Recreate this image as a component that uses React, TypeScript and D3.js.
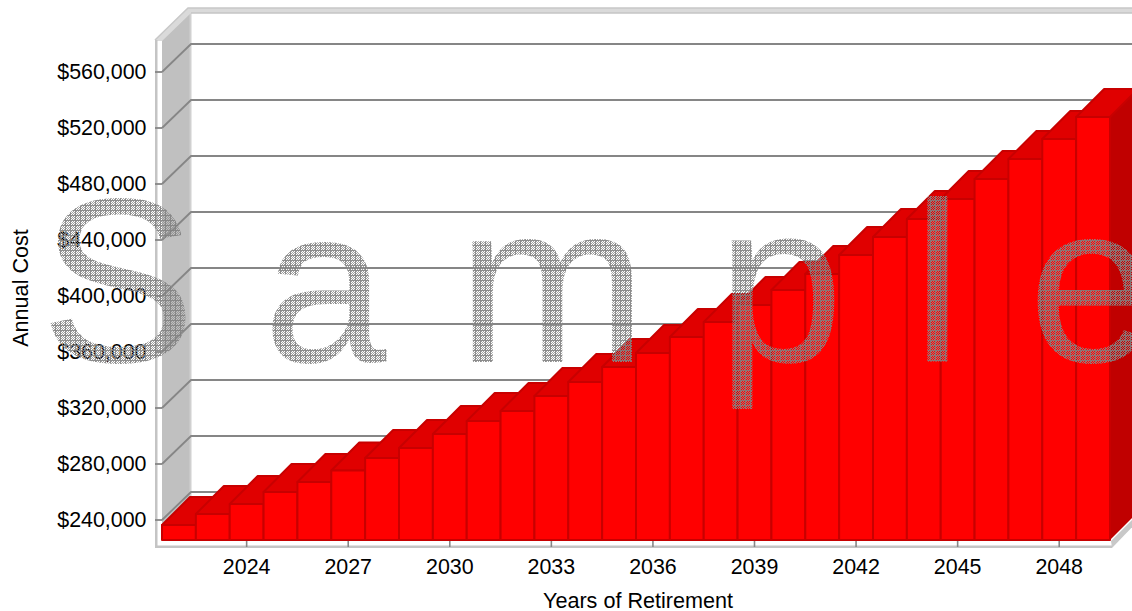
import React from "react";
import * as d3 from "d3";

const years = d3.range(2022, 2050);
const annualCost = [
  236400, 244300, 251400, 260000, 267100, 275400, 284300, 291400, 301400, 310700,
  317900, 328600, 338600, 349300, 359300, 370700, 381400, 393600, 404300, 415700,
  429300, 442100, 455000, 469300, 483600, 497900, 512100, 527900,
];
const valueTicks = [240000, 280000, 320000, 360000, 400000, 440000, 480000, 520000, 560000];
const yearTicks = [2024, 2027, 2030, 2033, 2036, 2039, 2042, 2045, 2048];
const watermarkLetters = ["S", "a", "m", "p", "l", "e"];
const watermarkX = [40, 263, 457, 717, 912, 1028];
const watermarkSize = [234, 222, 228, 228, 228, 228];

const W = 1132, H = 611;
const DEPTH = 28;
const LEFT = 162, RIGHT = 1110, FLOOR = 540, TOP = 40;
const FONT = "'Liberation Sans', Arial, sans-serif";

const x = d3.scaleBand<number>().domain(years).range([LEFT, RIGHT]);
const y = d3.scaleLinear().domain([240000, 560000]).range([520, 72]);
const money = (v: number) => "$" + d3.format(",")(v);
const pts = (p: number[][]) => p.map((q) => q.join(",")).join(" ");

const dots = [[1,1],[3,1],[2,2],[4,2],[1,3],[3,3],[2,4],[4,4]];

export default function App() {
  const bw = x.bandwidth();
  return (
    <svg width={W} height={H} viewBox={`0 0 ${W} ${H}`} style={{ position: "absolute", left: 0, top: 0, display: "block" }} fontFamily={FONT}>
      <defs>
        <pattern id="hatch" width={5} height={5} patternUnits="userSpaceOnUse">
          <rect width={5} height={1} fill="#808080" fillOpacity={0.9} />
          <rect y={1} width={1} height={4} fill="#808080" fillOpacity={0.9} />
          {dots.map(([a, b], i) => (
            <rect key={i} x={a} y={b} width={1} height={1} fill="#909090" fillOpacity={0.85} shapeRendering="crispEdges" />
          ))}
        </pattern>
      </defs>
      <rect width={W} height={H} fill="#fff" />

      {/* walls and frame */}
      <polygon points={pts([[LEFT, TOP], [LEFT + DEPTH, TOP - DEPTH], [LEFT + DEPTH, FLOOR - DEPTH], [LEFT, FLOOR]])} fill="#c0c0c0" />
      <rect x={189.5} y={12} width={2} height={FLOOR - DEPTH - 12} fill="#d0d0d0" />
      <polygon points={pts([[155, 40], [188, 8], [W + 10, 8], [W + 10, 13], [191, 13], [162, 41], [155, 41]])} fill="#dadada" />
      <polyline points={pts([[155, 40], [188, 8], [W + 10, 8]])} fill="none" stroke="#c8c8c8" strokeWidth={1.5} />
      <line x1={W + 10} x2={191} y1={13} y2={13} stroke="#c4c4c4" strokeWidth={1.5} />
      <rect x={155} y={40} width={2.5} height={508} fill="#c4c4c4" />
      <rect x={155} y={545.5} width={957} height={2.5} fill="#c4c4c4" />
      <polygon points={pts([[RIGHT + 1, 541], [RIGHT + DEPTH + 2, 512], [RIGHT + DEPTH + 2, 519], [RIGHT + 2, 548]])} fill="#c8c8c8" />

      {/* gridlines */}
      {valueTicks.map((t) => (
        <g key={t} fill="none" stroke="#868686" strokeWidth={1.8}>
          <line x1={155} x2={LEFT} y1={y(t)} y2={y(t)} />
          <polyline points={pts([[LEFT, y(t)], [LEFT + DEPTH + 1, y(t) - DEPTH], [W + 10, y(t) - DEPTH]])} />
        </g>
      ))}
      {yearTicks.map((t) => (
        <line key={t} x1={x(t)! + bw / 2} x2={x(t)! + bw / 2} y1={541} y2={547} stroke="#868686" strokeWidth={1.6} />
      ))}

      {/* bars */}
      {years.map((yr, i) => {
        const x0 = x(yr)!, x1 = x0 + bw, t = y(annualCost[i]);
        return (
          <g key={yr} stroke="#c80000" strokeWidth={2} strokeLinejoin="round">
            {i === years.length - 1 && (
              <polygon points={pts([[x1, t], [x1 + DEPTH, t - DEPTH], [x1 + DEPTH, FLOOR - DEPTH], [x1, FLOOR]])} fill="#c00000" stroke="none" />
            )}
            <polygon points={pts([[x0, t], [x0 + DEPTH, t - DEPTH], [x1 + DEPTH, t - DEPTH], [x1, t]])} fill="#e00000" />
            <rect x={x0} y={t} width={bw} height={FLOOR - t} fill="#ff0000" />
          </g>
        );
      })}

      {/* tick labels */}
      {valueTicks.map((t) => (
        <text key={t} x={146.5} y={y(t) + 6.5} textAnchor="end" fontSize={21.4} fill="#000">{money(t)}</text>
      ))}
      {yearTicks.map((t) => (
        <text key={t} x={x(t)! + bw / 2} y={573.5} textAnchor="middle" fontSize={21.4} fill="#000">{t}</text>
      ))}
      <text x={638} y={608} textAnchor="middle" fontSize={21.6} fill="#000">Years of Retirement</text>
      <text transform="translate(28,288) rotate(-90)" textAnchor="middle" fontSize={21.6} fill="#000">Annual Cost</text>

      {/* watermark */}
      {watermarkLetters.map((c, i) => (
        <text key={i} x={watermarkX[i]} y={362} fontSize={watermarkSize[i]} fill="url(#hatch)">{c}</text>
      ))}
    </svg>
  );
}
